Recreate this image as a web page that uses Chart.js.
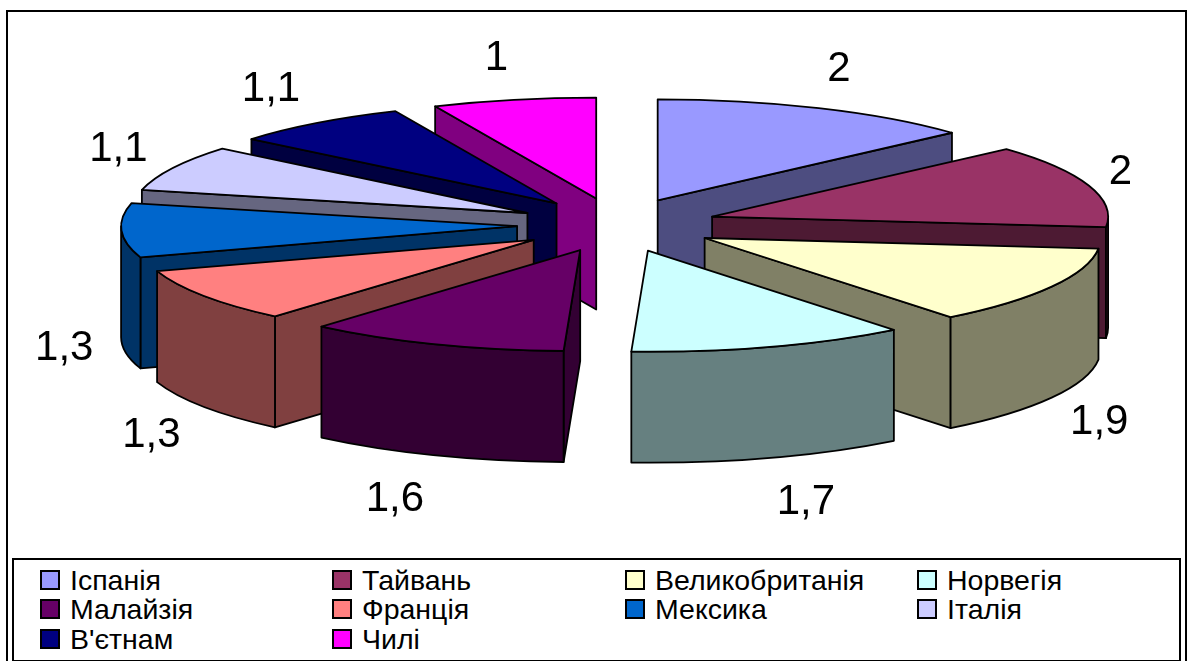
<!DOCTYPE html>
<html lang="uk">
<head>
<meta charset="utf-8">
<title>Кругова діаграма</title>
<script src="https://cdn.jsdelivr.net/npm/chart.js@4"></script>
<style>
  html, body { margin: 0; background: #fff; }
  #stage { position: relative; width: 1195px; height: 661px; overflow: hidden; font-family: "Liberation Sans", Arial, sans-serif; }
  #stage canvas { position: absolute; left: 0; top: 0; }
  #frame { position: absolute; left: 6px; top: 10px; width: 1177px; height: 660px; border: 2px solid #000; }
  #legend { position: absolute; left: 12px; top: 558px; width: 1165px; height: 100px; border: 2px solid #000; background: #fff; }
  .item { position: absolute; display: flex; align-items: center; height: 30px; font-size: 28.5px; color: #000; white-space: nowrap; }
  .swatch { box-sizing: border-box; width: 20px; height: 20px; border: 2px solid #000; margin-right: 10px; }
</style>
</head>
<body>
<div id="stage">
  <div id="frame"></div>
  <canvas id="pie" width="1195" height="661"></canvas>
  <div id="legend"></div>
</div>
<script>
const categories = ['Іспанія', 'Тайвань', 'Великобританія', 'Норвегія', 'Малайзія', 'Франція', 'Мексика', 'Італія', "В'єтнам", 'Чилі'];
const values = [2, 2, 1.9, 1.7, 1.6, 1.3, 1.3, 1.1, 1.1, 1];
const topColors = ['#9999ff', '#993366', '#ffffcc', '#ccffff', '#660066', '#ff8080', '#0066cc', '#ccccff', '#000080', '#ff00ff'];
const sideColors = ['#4d4d80', '#4d1a33', '#808066', '#668080', '#330033', '#804040', '#003366', '#666680', '#000040', '#800080'];

// projected pie shape, in pixels
const RIM_X = 396;
const RIM_Y = 101;
const DEPTH = 111;
const EXPLODE_X = 100;
const EXPLODE_Y = 27;
const LABEL_X_RIGHT = 517;
const LABEL_X_LEFT = 524;
const LABEL_Y = 170;
const LABEL_DROP = 116;

const legendCols = [26, 318, 611, 903];
const legendRows = [5, 34, 64];

function outlined(ctx, fill) {
  ctx.fillStyle = fill;
  ctx.fill();
  ctx.stroke();
}

function drawSlice(ctx, arc, i) {
  const { x, y, startAngle: a, endAngle: b } = arc.getProps(['x', 'y', 'startAngle', 'endAngle'], true);
  const mid = (a + b) / 2;
  const tx = x + Math.cos(mid) * EXPLODE_X;
  const ty = y + Math.sin(mid) * EXPLODE_Y;
  const rimPt = (t) => [tx + RIM_X * Math.cos(t), ty + RIM_Y * Math.sin(t)];

  const wall = (t) => {
    const [px, py] = rimPt(t);
    ctx.beginPath();
    ctx.moveTo(tx, ty);
    ctx.lineTo(px, py);
    ctx.lineTo(px, py + DEPTH);
    ctx.lineTo(tx, ty + DEPTH);
    ctx.closePath();
    outlined(ctx, sideColors[i]);
  };

  // only the radial walls facing the viewer
  if (Math.cos(a) < 0) wall(a);
  if (Math.cos(b) > 0) wall(b);

  // outer rim, front half only
  const lo = Math.max(a, 0);
  const hi = Math.min(b, Math.PI);
  if (lo < hi) {
    ctx.beginPath();
    ctx.ellipse(tx, ty, RIM_X, RIM_Y, 0, lo, hi);
    ctx.ellipse(tx, ty + DEPTH, RIM_X, RIM_Y, 0, hi, lo, true);
    ctx.closePath();
    outlined(ctx, sideColors[i]);
  }

  ctx.beginPath();
  ctx.moveTo(tx, ty);
  ctx.ellipse(tx, ty, RIM_X, RIM_Y, 0, a, b);
  ctx.closePath();
  outlined(ctx, topColors[i]);
}

function drawLabel(ctx, arc, i) {
  const { x, y, startAngle: a, endAngle: b } = arc.getProps(['x', 'y', 'startAngle', 'endAngle'], true);
  const mid = (a + b) / 2;
  const s = Math.sin(mid);
  const c = Math.cos(mid);
  ctx.textAlign = c >= 0 ? 'left' : 'right';
  ctx.fillText(values[i].toLocaleString('uk-UA'), x + c * (c >= 0 ? LABEL_X_RIGHT : LABEL_X_LEFT), y + s * LABEL_Y + (s > 0 ? LABEL_DROP : 0));
}

// the stock flat arcs are replaced with extruded, pulled-apart slices
const pie3d = {
  id: 'pie3d',
  beforeDatasetsDraw(chart) {
    const ctx = chart.ctx;
    const arcs = chart.getDatasetMeta(0).data;
    const order = arcs.map((arc, i) => i).sort((p, q) => {
      const mp = (arcs[p].startAngle + arcs[p].endAngle) / 2;
      const mq = (arcs[q].startAngle + arcs[q].endAngle) / 2;
      return Math.sin(mp) - Math.sin(mq);
    });
    ctx.save();
    ctx.lineWidth = 1.8;
    ctx.strokeStyle = '#000';
    ctx.lineJoin = 'round';
    order.forEach((i) => drawSlice(ctx, arcs[i], i));
    ctx.fillStyle = '#000';
    ctx.font = '42px "Liberation Sans", Arial, sans-serif';
    ctx.textBaseline = 'middle';
    arcs.forEach((arc, i) => drawLabel(ctx, arc, i));
    ctx.restore();
    return false;
  },
};

new Chart(document.getElementById('pie'), {
  type: 'pie',
  data: {
    labels: categories,
    datasets: [{ data: values, backgroundColor: topColors }],
  },
  options: {
    responsive: false,
    animation: false,
    layout: { padding: { left: 39, bottom: 211 } },
    plugins: { legend: { display: false }, tooltip: { enabled: false } },
  },
  plugins: [pie3d],
});

const legend = document.getElementById('legend');
categories.forEach((name, i) => {
  const item = document.createElement('div');
  item.className = 'item';
  item.style.left = legendCols[i % 4] + 'px';
  item.style.top = legendRows[Math.floor(i / 4)] + 'px';
  const swatch = document.createElement('span');
  swatch.className = 'swatch';
  swatch.style.background = topColors[i];
  item.append(swatch, name);
  legend.append(item);
});
</script>
</body>
</html>
